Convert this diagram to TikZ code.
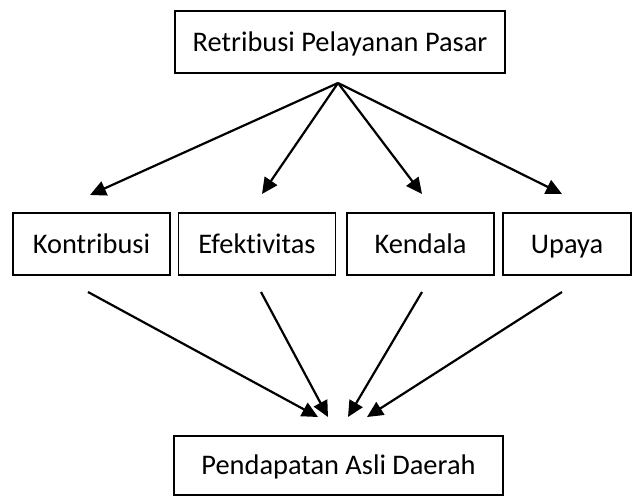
\documentclass[tikz,border=0pt]{standalone}
\usepackage{fontspec}
\setmainfont{Carlito}[Ligatures=NoCommon]
\usetikzlibrary{arrows.meta}

\begin{document}
\begin{tikzpicture}[x=1bp,y=1bp,yscale=-1,
    kotak/.style={draw,line width=1.6bp,inner sep=0pt,text height=22bp,text depth=3.6bp,
      font=\fontsize{28.5}{32}\selectfont},
    panah/.style={-{Triangle[length=16bp,width=15bp]},line width=2.2bp}]
\useasboundingbox (0,0) rectangle (634,496);
% kotak
\node[kotak,minimum width=330bp,minimum height=62bp] (retribusi) at (340,42) {Retribusi Pelayanan Pasar};
\node[kotak,minimum width=157bp,minimum height=62bp] (kontribusi) at (91.5,244) {Kontribusi};
\node[kotak,minimum width=157bp,minimum height=62bp] (efektivitas) at (257,244) {Efektivitas};
\node[kotak,minimum width=147bp,minimum height=62bp] (kendala) at (420.5,244) {Kendala};
\node[kotak,minimum width=128bp,minimum height=62bp] (upaya) at (567,244) {Upaya};
\node[kotak,minimum width=329bp,minimum height=59bp] (pad) at (338.5,465.5) {Pendapatan Asli Daerah};
% titik ujung panah
\coordinate (puncak) at (338,83);
\coordinate (atasA) at (90,195);
\coordinate (atasB) at (262,194);
\coordinate (atasC) at (422,194);
\coordinate (atasD) at (562,194);
\coordinate (bawahA) at (88,292);
\coordinate (bawahB) at (261,292);
\coordinate (bawahC) at (422,292);
\coordinate (bawahD) at (562,292);
\coordinate (tujuanA) at (318,417);
\coordinate (tujuanB) at (328,417);
\coordinate (tujuanC) at (348,417);
\coordinate (tujuanD) at (367,417);
% panah
\foreach \i in {A,B,C,D} {
  \draw[panah] (puncak) -- (atas\i);
  \draw[panah] (bawah\i) -- (tujuan\i);
}
\end{tikzpicture}
\end{document}
